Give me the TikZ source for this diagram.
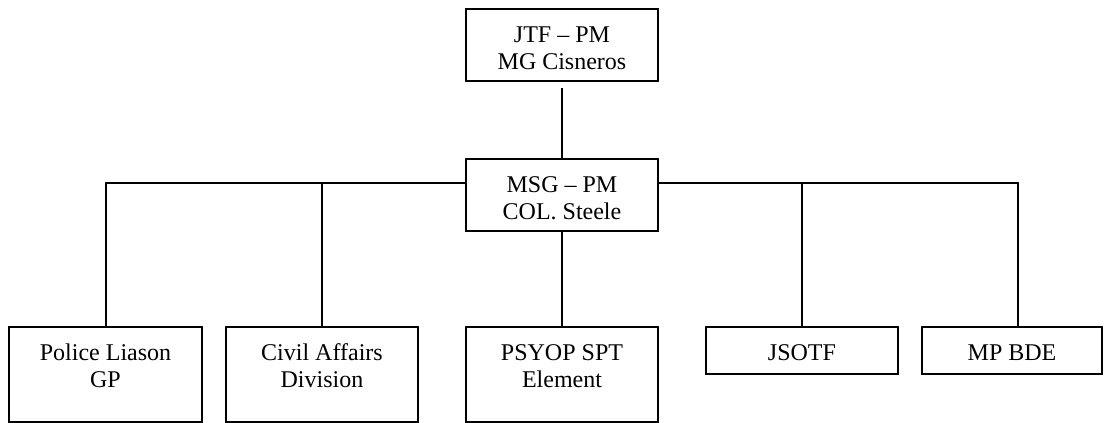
\documentclass[tikz,border=0pt]{standalone}
\usepackage{fontspec}
\setmainfont{Liberation Serif}
\begin{document}
\begin{tikzpicture}[x=1pt,y=1pt,
  orgbox/.style={draw, line width=1.5pt, inner sep=0pt, anchor=center},
  conn/.style={line width=1.5pt}]
\newcommand{\boxtext}[3]{\parbox[c][#2pt][t]{#1pt}{\centering\fontsize{24}{27.5}\selectfont\rule{0pt}{33pt}#3}}
\useasboundingbox (0,0) rectangle (1104,-423);
\node[orgbox] (top) at (562,-45) {\boxtext{192}{72}{JTF – PM\\MG Cisneros}};
\node[orgbox] (msg) at (562,-195) {\boxtext{192}{72}{MSG – PM\\COL. Steele}};
\node[orgbox] (police) at (105.5,-374.5) {\boxtext{193}{95}{Police Liason\\GP}};
\node[orgbox] (civil) at (322,-374.5) {\boxtext{192}{95}{Civil Affairs\\Division}};
\node[orgbox] (psyop) at (562,-374.5) {\boxtext{192}{95}{PSYOP SPT\\Element}};
\node[orgbox] (jsotf) at (802,-350.5) {\boxtext{192}{47}{JSOTF}};
\node[orgbox] (mpbde) at (1012,-350.5) {\boxtext{180}{47}{MP BDE}};
\coordinate (busL) at (106,-183);
\coordinate (busR) at (1018,-183);
\draw[conn] ([yshift=-6pt]top.south) -- (msg.north);
\draw[conn] (busL |- police.north) -- (busL) -- (busL -| msg.west);
\draw[conn] (busR -| msg.east) -- (busR) -- (busR |- mpbde.north);
\draw[conn] (civil.north) -- (civil.north |- busL);
\draw[conn] (jsotf.north) -- (jsotf.north |- busL);
\draw[conn] (msg.south) -- (psyop.north);
\end{tikzpicture}
\end{document}
